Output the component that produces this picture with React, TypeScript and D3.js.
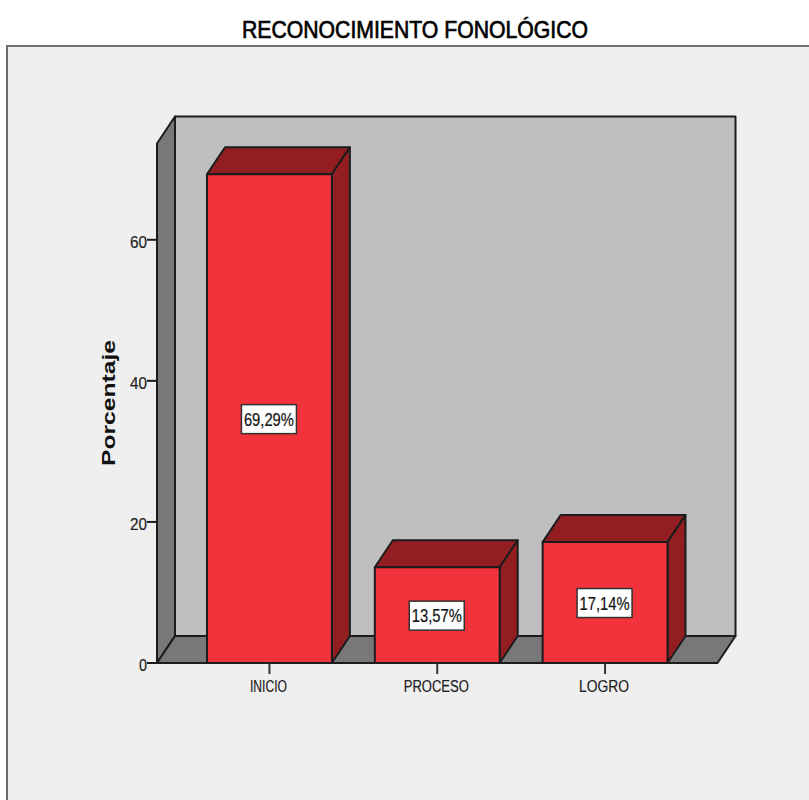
import React, { useEffect, useRef } from 'react'
import * as d3 from 'd3'

const categories = ['INICIO', 'PROCESO', 'LOGRO']
const values = [69.29, 13.57, 17.14]
const valueLabels = ['69,29%', '13,57%', '17,14%']
const yTicks = [0, 20, 40, 60]

const width = 809
const height = 800
const depthX = 18
const depthY = 27
const left = 157
const right = 717.5
const bottom = 663
const top = 143.5
const font = "'Liberation Sans', Arial, sans-serif"
const edge = '#1c1c1c'

export default function App() {
  const svgRef = useRef<SVGSVGElement>(null)

  useEffect(() => {
    if (!svgRef.current) return
    const svg = d3.select(svgRef.current)
    svg.selectAll('*').remove()

    const x = d3.scaleBand<string>()
      .domain(categories)
      .range([left, right])
      .paddingInner(0.256)
      .paddingOuter(0.298)
    const y = d3.scaleLinear().domain([0, 73.65]).range([bottom, top])

    const poly = (pts: number[][], fill: string, sw = 2) =>
      svg.append('path')
        .attr('d', d3.line()(pts as [number, number][]) + 'Z')
        .attr('fill', fill)
        .attr('stroke', edge)
        .attr('stroke-width', sw)
        .attr('stroke-linejoin', 'round')

    // outer frame
    svg.append('rect').attr('width', width).attr('height', height).attr('fill', '#fff')
    svg.append('rect').attr('x', 7).attr('y', 46).attr('width', width + 10).attr('height', height)
      .attr('fill', '#efefef').attr('stroke', '#6e6e6e').attr('stroke-width', 2)

    svg.append('text')
      .attr('x', 415).attr('y', 38)
      .attr('text-anchor', 'middle')
      .attr('font-family', font).attr('font-size', 24.5)
      .attr('textLength', 346).attr('lengthAdjust', 'spacingAndGlyphs')
      .attr('fill', '#000')
      .attr('stroke', '#000').attr('stroke-width', 0.7)
      .text('RECONOCIMIENTO FONOLÓGICO')

    // 3d walls
    poly([[left + depthX, top - depthY], [right + depthX, top - depthY], [right + depthX, bottom - depthY], [left + depthX, bottom - depthY]], '#bfbfbf')
    poly([[left, top], [left + depthX, top - depthY], [left + depthX, bottom - depthY], [left, bottom]], '#787878')
    poly([[left, bottom], [left + depthX, bottom - depthY], [right + depthX, bottom - depthY], [right, bottom]], '#787878')

    // axis ticks
    yTicks.forEach(t => {
      svg.append('line').attr('x1', left - 10).attr('x2', left)
        .attr('y1', y(t)).attr('y2', y(t))
        .attr('stroke', edge).attr('stroke-width', 2)
      svg.append('text').attr('x', left - 10).attr('y', y(t) + 8)
        .attr('text-anchor', 'end')
        .attr('font-family', font).attr('font-size', 17)
        .attr('textLength', t === 0 ? 8 : 17).attr('lengthAdjust', 'spacingAndGlyphs')
        .attr('fill', '#222').attr('stroke', '#222').attr('stroke-width', 0.2).text(t)
    })

    categories.forEach((c, i) => {
      const x0 = x(c)!
      const x1 = x0 + x.bandwidth()
      const yt = y(values[i])
      const mid = (x0 + x1) / 2
      poly([[x0, yt], [x0 + depthX, yt - depthY], [x1 + depthX, yt - depthY], [x1, yt]], '#931e22')
      poly([[x1, yt], [x1 + depthX, yt - depthY], [x1 + depthX, bottom - depthY], [x1, bottom]], '#931e22')
      poly([[x0, yt], [x1, yt], [x1, bottom], [x0, bottom]], '#f2333b')

      svg.append('line').attr('x1', mid).attr('x2', mid).attr('y1', bottom).attr('y2', bottom + 11)
        .attr('stroke', '#333').attr('stroke-width', 2)
      svg.append('text').attr('x', mid - 1).attr('y', bottom + 29)
        .attr('text-anchor', 'middle')
        .attr('font-family', font).attr('font-size', 16)
        .attr('textLength', [37, 65, 50][i]).attr('lengthAdjust', 'spacingAndGlyphs')
        .attr('fill', '#222').attr('stroke', '#222').attr('stroke-width', 0.2).text(c)

      const cy = (yt + bottom) / 2
      svg.append('rect').attr('x', mid - 28).attr('y', cy - 14).attr('width', 55).attr('height', 29)
        .attr('fill', '#fff').attr('stroke', '#333').attr('stroke-width', 1.5)
      svg.append('text').attr('x', mid - 0.5).attr('y', cy + 7)
        .attr('text-anchor', 'middle')
        .attr('font-family', font).attr('font-size', 17.5)
        .attr('textLength', 50).attr('lengthAdjust', 'spacingAndGlyphs')
        .attr('fill', '#111').attr('stroke', '#111').attr('stroke-width', 0.2).text(valueLabels[i])
    })

    svg.append('text')
      .attr('transform', 'translate(115,403) rotate(-90)')
      .attr('text-anchor', 'middle')
      .attr('font-family', font).attr('font-size', 19)
      .attr('font-weight', 'bold')
      .attr('textLength', 126).attr('lengthAdjust', 'spacingAndGlyphs')
      .attr('fill', '#111').text('Porcentaje')
  }, [])

  return (
    <svg ref={svgRef} width={width} height={height}
      style={{ position: 'absolute', left: 0, top: 0, display: 'block' }} />
  )
}
